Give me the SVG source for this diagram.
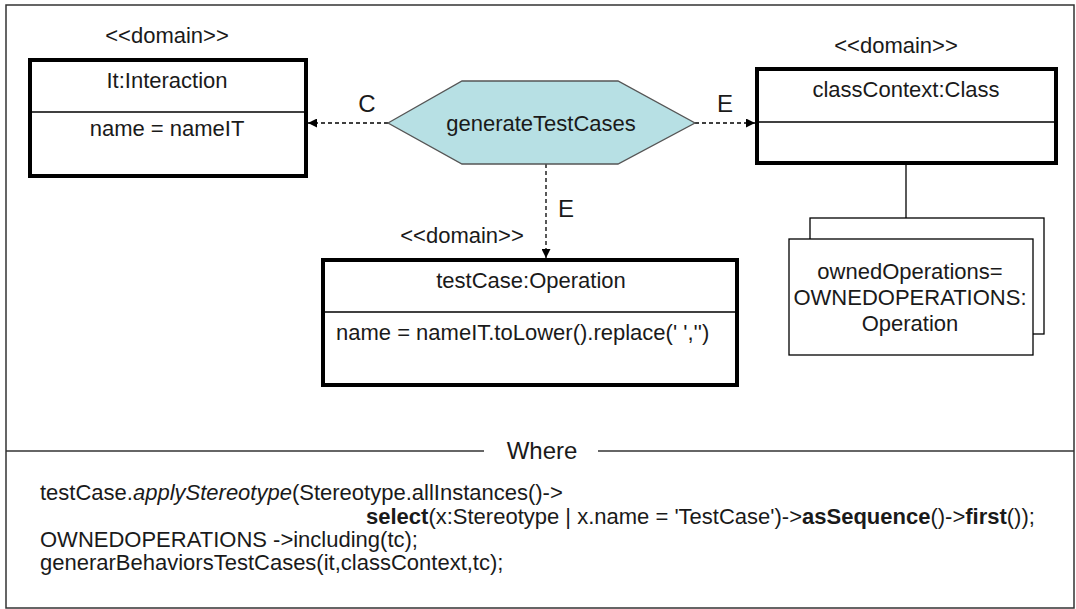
<svg xmlns="http://www.w3.org/2000/svg" width="1076" height="609" viewBox="0 0 1076 609">
<defs>
<style>
text{font-family:"Liberation Sans",Arial,sans-serif;fill:#1a1a1a;}
.t{font-size:22px;}
.m{text-anchor:middle;}
.lbl{font-size:24px;}
.box{fill:#fff;stroke:#000;stroke-width:4;}
.thin{fill:#fff;stroke:#000;stroke-width:1.3;}
.div{stroke:#000;stroke-width:1.3;}
.dash{fill:none;stroke:#000;stroke-width:1.3;stroke-dasharray:4 3;}
</style>
<marker id="ah" viewBox="0 0 10 10" refX="10" refY="5" markerWidth="9" markerHeight="9" markerUnits="userSpaceOnUse" orient="auto">
<path d="M0,0 L10,5 L0,10 z" fill="#000"/>
</marker>
</defs>
<rect x="0" y="0" width="1076" height="609" fill="#fff"/>
<rect x="6" y="5" width="1068" height="603" fill="none" stroke="#333" stroke-width="1.5"/>

<g id="connectors">
<line class="dash" x1="388" y1="123" x2="308" y2="123" marker-end="url(#ah)"/>
<line class="dash" x1="695" y1="123" x2="755" y2="123" marker-end="url(#ah)"/>
<line class="dash" x1="546" y1="164" x2="546" y2="258" marker-end="url(#ah)"/>
<line x1="906" y1="163" x2="906" y2="239" stroke="#000" stroke-width="1.3"/>
<text class="lbl m" x="367" y="112">C</text>
<text class="lbl m" x="725" y="112">E</text>
<text class="lbl m" x="566" y="217">E</text>
</g>

<g id="interaction">
<text class="t m" x="167" y="43">&lt;&lt;domain&gt;&gt;</text>
<rect class="box" x="30" y="60" width="276" height="116"/>
<line class="div" x1="30" y1="112" x2="306" y2="112"/>
<text class="t m" x="167" y="88">It:Interaction</text>
<text class="t m" x="167" y="136">name = nameIT</text>
</g>

<g id="generateTestCases">
<polygon points="388,123 462,81 618,81 695,123 618,164 462,164" fill="#b7e0e4" stroke="#555" stroke-width="1.3"/>
<text class="t m" x="541" y="131">generateTestCases</text>
</g>

<g id="classContext">
<text class="t m" x="896" y="53">&lt;&lt;domain&gt;&gt;</text>
<rect class="box" x="757" y="69" width="299" height="94"/>
<line class="div" x1="757" y1="122" x2="1056" y2="122"/>
<text class="t m" x="906" y="97">classContext:Class</text>
</g>

<g id="ownedOperations">
<rect class="thin" x="810" y="218" width="234" height="116"/>
<rect class="thin" x="789" y="239" width="244" height="116"/>
<text class="t m" x="910" y="279">ownedOperations=</text>
<text class="t m" x="910" y="305">OWNEDOPERATIONS:</text>
<text class="t m" x="910" y="331">Operation</text>
</g>

<g id="testCase">
<text class="t m" x="462" y="243">&lt;&lt;domain&gt;&gt;</text>
<rect class="box" x="323" y="260" width="414" height="125"/>
<line class="div" x1="323" y1="312" x2="737" y2="312"/>
<text class="t m" x="531" y="288">testCase:Operation</text>
<text class="t" x="336" y="340">name = nameIT.toLower().replace(' ','')</text>
</g>

<g id="where">
<line x1="6" y1="451" x2="484" y2="451" stroke="#333" stroke-width="1.5"/>
<line x1="598" y1="451" x2="1074" y2="451" stroke="#333" stroke-width="1.5"/>
<text class="m" x="542" y="459" style="font-size:24px">Where</text>
<text class="t" x="40" y="500">testCase.<tspan font-style="italic">applyStereotype</tspan>(Stereotype.allInstances()-&gt;</text>
<text class="t" x="366" y="524"><tspan font-weight="bold">select</tspan>(x:Stereotype | x.name = 'TestCase')-&gt;<tspan font-weight="bold">asSequence</tspan>()-&gt;<tspan font-weight="bold">first</tspan>());</text>
<text class="t" x="40" y="547">OWNEDOPERATIONS -&gt;including(tc);</text>
<text class="t" x="40" y="570">generarBehaviorsTestCases(it,classContext,tc);</text>
</g>
</svg>
